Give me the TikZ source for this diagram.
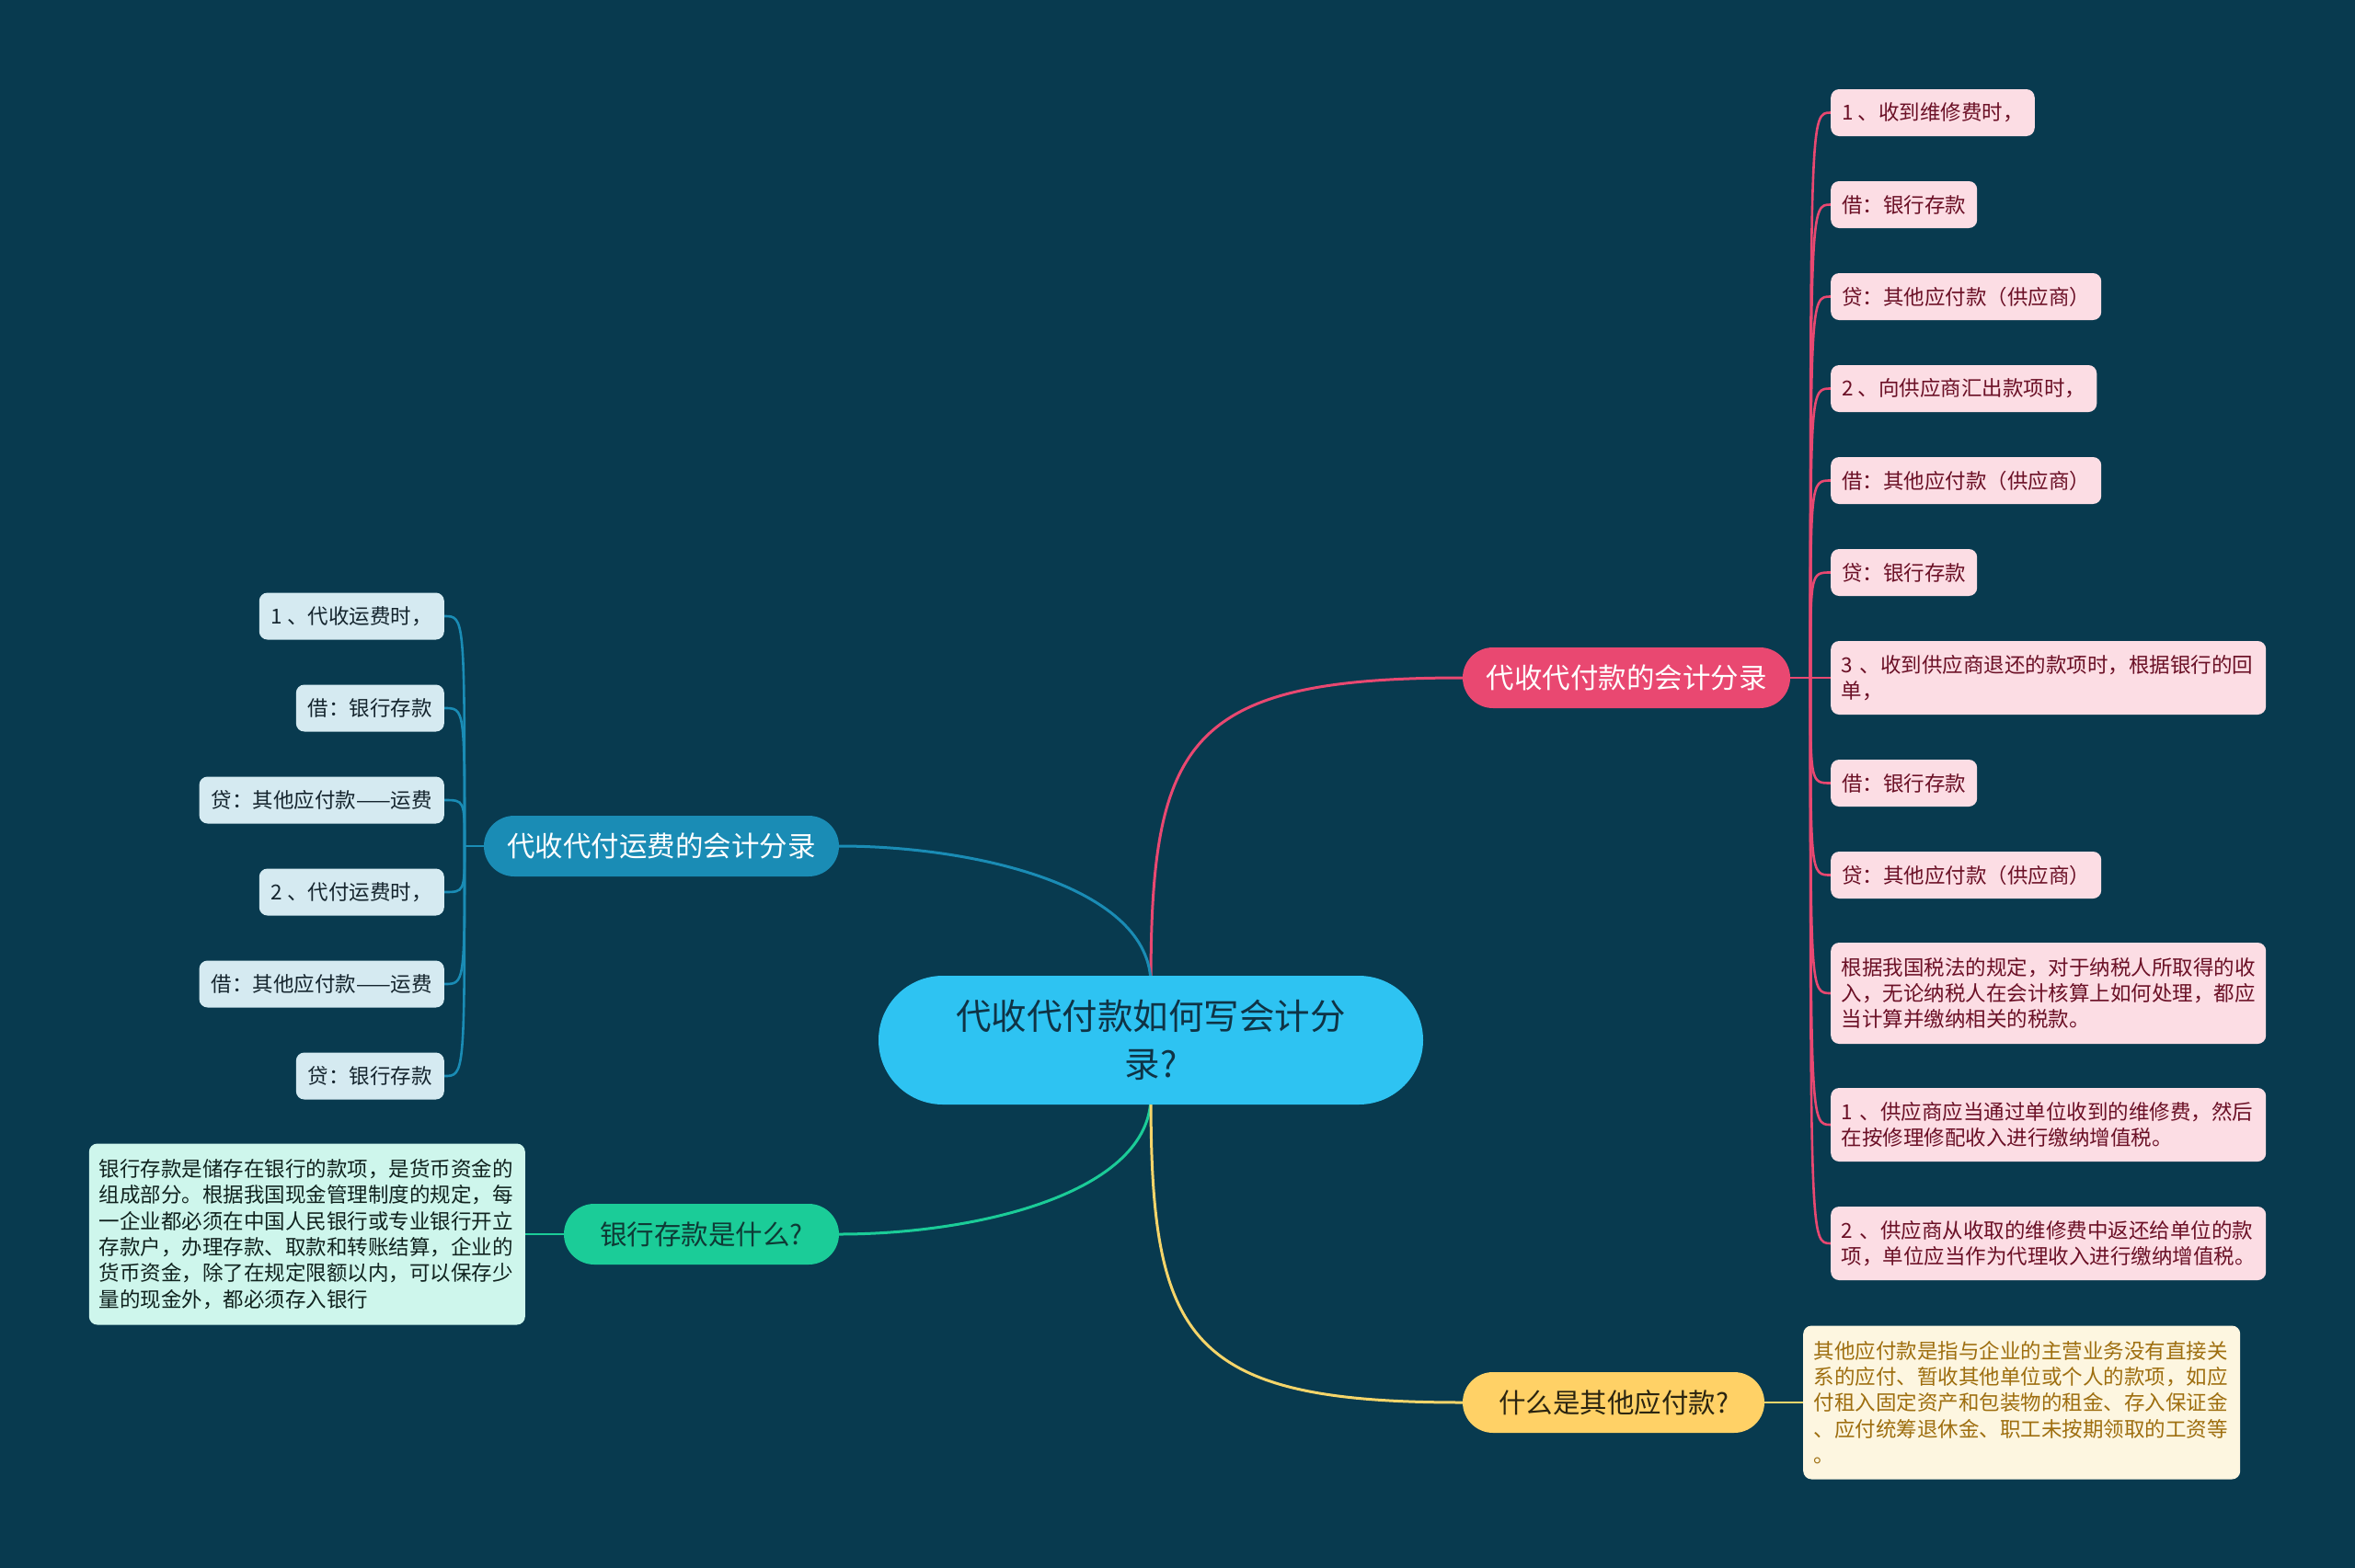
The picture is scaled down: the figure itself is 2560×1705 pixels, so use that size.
\documentclass[tikz,border=0pt]{standalone}
\usepackage{fontspec}
\setmainfont{Noto Sans CJK SC}
\usetikzlibrary{backgrounds,calc}
\definecolor{bgc}{HTML}{083A4F}
\definecolor{centerfill}{HTML}{2EC3F2}
\definecolor{centertext}{HTML}{0F3345}
\definecolor{pinkc}{HTML}{E94871}
\definecolor{pinkleaffill}{HTML}{FCDDE4}
\definecolor{pinktext}{HTML}{6B1026}
\definecolor{bluec}{HTML}{1A8CB5}
\definecolor{blueleaffill}{HTML}{D5EAF1}
\definecolor{bluetext}{HTML}{15252E}
\definecolor{greenc}{HTML}{1BCC98}
\definecolor{greenleaffill}{HTML}{CEF6EC}
\definecolor{greentext}{HTML}{10221E}
\definecolor{greenbranchtext}{HTML}{0E3A35}
\definecolor{yellowc}{HTML}{FFD166}
\definecolor{yellowline}{HTML}{F5D56A}
\definecolor{yellowleaffill}{HTML}{FDF6E0}
\definecolor{yellowtext}{HTML}{9E6E0F}
\definecolor{yellowbranchtext}{HTML}{2A2410}
\begin{document}
\begin{tikzpicture}[x=1pt,y=-1pt,
  leafbase/.style={rounded corners=9pt, inner xsep=12pt, inner ysep=0pt,
    minimum height=51pt, font=\fontsize{22.5}{28.3}\selectfont},
  pinkleaf/.style={leafbase, fill=pinkleaffill, text=pinktext, anchor=west},
  pinkmulti/.style={pinkleaf, text width=450pt, inner xsep=11.5pt, align=left},
  blueleaf/.style={leafbase, fill=blueleaffill, text=bluetext, anchor=east, inner xsep=13pt},
  greenleaf/.style={leafbase, fill=greenleaffill, text=greentext, text width=452pt,
    inner xsep=11pt, align=left, minimum height=197pt},
  yellowleaf/.style={leafbase, fill=yellowleaffill, text=yellowtext, text width=452pt,
    inner xsep=11.5pt, align=left, minimum height=167pt},
  branchbox/.style={rounded corners=33pt, inner sep=0pt, minimum height=66pt},
  mainline/.style={line width=3pt},
  leafline/.style={line width=2.6pt}
]
\path[use as bounding box] (0,0) rectangle (2560,1705);

% central topic
\node[fill=centerfill, text=centertext, rounded corners=70pt, minimum width=592pt,
  minimum height=140pt, inner sep=0pt, align=center,
  font=\fontsize{38.5}{52}\selectfont] (c) at (1251,1131) {代收代付款如何写会计分\\录?};

% main branches
\node[branchbox, fill=pinkc, text=white, minimum width=356pt,
  font=\fontsize{30.5}{36}\selectfont] (pk) at (1768,737) {代收代付款的会计分录};
\node[branchbox, fill=bluec, text=white, minimum width=386pt,
  font=\fontsize{30.5}{36}\selectfont] (bl) at (719,920) {代收代付运费的会计分录};
\node[branchbox, fill=greenc, text=greenbranchtext, minimum width=299pt,
  font=\fontsize{29.5}{34}\selectfont] (gr) at (762.5,1342) {银行存款是什么?};
\node[branchbox, fill=yellowc, text=yellowbranchtext, minimum width=328pt,
  font=\fontsize{29.5}{34}\selectfont] (ye) at (1754,1525) {什么是其他应付款?};

% pink leaves
\node[pinkleaf] (p1) at (1990,122.5) {1 、收到维修费时，};
\node[pinkleaf] (p2) at (1990,222.5) {借：银行存款};
\node[pinkleaf] (p3) at (1990,322.5) {贷：其他应付款（供应商）};
\node[pinkleaf] (p4) at (1990,422.5) {2 、向供应商汇出款项时，};
\node[pinkleaf] (p5) at (1990,522.5) {借：其他应付款（供应商）};
\node[pinkleaf] (p6) at (1990,622.5) {贷：银行存款};
\node[pinkmulti, minimum height=80pt] (p7) at (1990,737) {3 、收到供应商退还的款项时，根据银行的回\\单，};
\node[pinkleaf] (p8) at (1990,851.5) {借：银行存款};
\node[pinkleaf] (p9) at (1990,951.5) {贷：其他应付款（供应商）};
\node[pinkmulti, minimum height=110pt] (p10) at (1990,1080) {根据我国税法的规定，对于纳税人所取得的收\\入，无论纳税人在会计核算上如何处理，都应\\当计算并缴纳相关的税款。};
\node[pinkmulti, minimum height=80pt] (p11) at (1990,1223) {1 、供应商应当通过单位收到的维修费，然后\\在按修理修配收入进行缴纳增值税。};
\node[pinkmulti, minimum height=80pt] (p12) at (1990,1352) {2 、供应商从收取的维修费中返还给单位的款\\项，单位应当作为代理收入进行缴纳增值税。};

% blue leaves
\node[blueleaf] (b1) at (483,670) {1 、代收运费时，};
\node[blueleaf] (b2) at (483,770) {借：银行存款};
\node[blueleaf] (b3) at (483,870) {贷：其他应付款——运费};
\node[blueleaf] (b4) at (483,970) {2 、代付运费时，};
\node[blueleaf] (b5) at (483,1070) {借：其他应付款——运费};
\node[blueleaf] (b6) at (483,1170) {贷：银行存款};

% green leaf
\node[greenleaf, anchor=east] (g1) at (571,1342) {银行存款是储存在银行的款项，是货币资金的\\组成部分。根据我国现金管理制度的规定，每\\一企业都必须在中国人民银行或专业银行开立\\存款户，办理存款、取款和转账结算，企业的\\货币资金，除了在规定限额以内，可以保存少\\量的现金外，都必须存入银行};

% yellow leaf
\node[yellowleaf, anchor=west] (y1) at (1960,1525) {其他应付款是指与企业的主营业务没有直接关\\系的应付、暂收其他单位或个人的款项，如应\\付租入固定资产和包装物的租金、存入保证金\\、应付统筹退休金、职工未按期领取的工资等\\。};

\coordinate (ctop) at (1251,1070);
\coordinate (cbot) at (1251,1192);
\coordinate (pS) at (1968,737);
\coordinate (bS) at (505,920);

\begin{scope}[on background layer]
\fill[bgc] (0,0) rectangle (2560,1705);
% main connectors
\draw[mainline, pinkc] (ctop) .. controls +(0,-265) and +(-300,0) .. (pk.west);
\draw[mainline, bluec] (ctop) .. controls +(0,-105) and +(150,0) .. (bl.east);
\draw[mainline, greenc] (cbot) .. controls +(0,105) and +(150,0) .. (gr.east);
\draw[mainline, yellowline] (cbot) .. controls +(0,265) and +(-300,0) .. (ye.west);
% pink leaf connectors
\draw[leafline, pinkc] (pk.east) -- (pS);
\foreach \n in {p1,p2,p3,p4,p5,p6,p7,p8,p9,p10,p11,p12}
  \draw[leafline, pinkc] (pS) .. controls (pS |- \n.west) .. (\n.west);
% blue leaf connectors
\draw[leafline, bluec] (bl.west) -- (bS);
\foreach \n in {b1,b2,b3,b4,b5,b6}
  \draw[leafline, bluec] (bS) .. controls (bS |- \n.east) .. (\n.east);
% green and yellow leaf connectors
\draw[leafline, greenc] (gr.west) -- (g1.east);
\draw[leafline, yellowline] (ye.east) -- (y1.west);
\end{scope}
\end{tikzpicture}
\end{document}
